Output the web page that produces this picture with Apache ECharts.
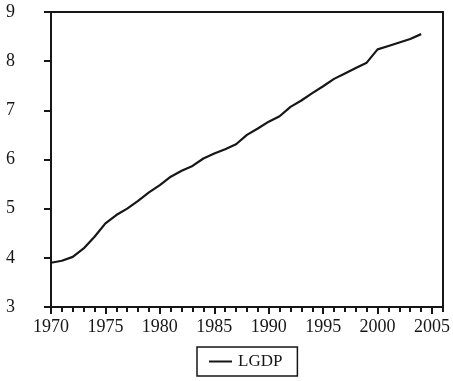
<!DOCTYPE html>
<html>
<head>
<meta charset="utf-8">
<script src="https://cdn.jsdelivr.net/npm/echarts@6/dist/echarts.min.js"></script>
<style>
  html, body { margin: 0; padding: 0; background: #ffffff; }
  #chart { width: 453px; height: 381px; }
</style>
</head>
<body>
<div id="chart"></div>
<script>
// Annual log GDP, 1970-2004
const years = [1970, 1971, 1972, 1973, 1974, 1975, 1976, 1977, 1978, 1979,
               1980, 1981, 1982, 1983, 1984, 1985, 1986, 1987, 1988, 1989,
               1990, 1991, 1992, 1993, 1994, 1995, 1996, 1997, 1998, 1999,
               2000, 2001, 2002, 2003, 2004];
const lgdp = [3.90, 3.94, 4.02, 4.19, 4.43, 4.70, 4.87, 5.00, 5.16, 5.33,
              5.48, 5.65, 5.77, 5.87, 6.02, 6.12, 6.21, 6.31, 6.50, 6.63,
              6.77, 6.88, 7.07, 7.20, 7.35, 7.49, 7.64, 7.75, 7.86, 7.97,
              8.24, 8.31, 8.38, 8.45, 8.55];
const seriesName = 'LGDP';

// Axis ranges and tick positions
const xMin = 1970, xMax = 2006;
const xMajorTicks = [1970, 1975, 1980, 1985, 1990, 1995, 2000, 2005];
const xMinorTicks = [];
for (let y = xMin; y <= xMax; y++) xMinorTicks.push(y);
const yMin = 3, yMax = 9, yStep = 1;

const ink = '#161616';
const font = '"Liberation Serif", "Times New Roman", serif';

const chart = echarts.init(document.getElementById('chart'), null, { renderer: 'canvas' });

chart.setOption({
  backgroundColor: '#ffffff',
  animation: false,
  textStyle: { fontFamily: font },
  grid: { left: 51, right: 9, top: 12, bottom: 74, containLabel: false },
  legend: {
    show: true,
    left: 197,
    top: 347,
    orient: 'horizontal',
    padding: [6, 15, 6, 12],
    borderColor: ink,
    borderWidth: 1.5,
    itemWidth: 23,
    itemHeight: 2,
    icon: 'rect',
    textStyle: { fontFamily: font, fontSize: 17, color: ink, padding: [0, 0, 0, 1] },
    data: [{ name: seriesName, itemStyle: { color: ink } }]
  },
  xAxis: [
    {
      // year ticks, one per year
      type: 'value',
      min: xMin,
      max: xMax,
      interval: 1,
      position: 'bottom',
      axisLine: { show: true, onZero: false, lineStyle: { color: ink, width: 2 } },
      axisTick: { show: true, inside: false, length: 5, lineStyle: { color: ink, width: 2 },
                  customValues: xMinorTicks },
      axisLabel: { show: false },
      splitLine: { show: false }
    },
    {
      // five-year ticks with labels
      type: 'value',
      min: xMin,
      max: xMax,
      interval: 5,
      position: 'bottom',
      offset: 0,
      axisLine: { show: false, onZero: false },
      axisTick: { show: true, inside: false, length: 7, lineStyle: { color: ink, width: 2 },
                  customValues: xMajorTicks },
      axisLabel: {
        show: true,
        customValues: xMajorTicks,
        margin: 11,
        fontFamily: font,
        fontSize: 18,
        color: ink,
        formatter: v => String(v)
      },
      splitLine: { show: false }
    },
    {
      // top frame edge
      type: 'value',
      min: xMin,
      max: xMax,
      position: 'top',
      axisLine: { show: true, onZero: false, lineStyle: { color: ink, width: 2 } },
      axisTick: { show: false },
      axisLabel: { show: false },
      splitLine: { show: false }
    }
  ],
  yAxis: [
    {
      type: 'value',
      min: yMin,
      max: yMax,
      interval: yStep,
      position: 'left',
      axisLine: { show: true, onZero: false, lineStyle: { color: ink, width: 2 } },
      axisTick: { show: true, inside: false, length: 7, lineStyle: { color: ink, width: 2 } },
      axisLabel: {
        show: true,
        margin: 36,
        fontFamily: font,
        fontSize: 18,
        color: ink
      },
      splitLine: { show: false }
    },
    {
      // right frame edge
      type: 'value',
      min: yMin,
      max: yMax,
      interval: yStep,
      position: 'right',
      axisLine: { show: true, onZero: false, lineStyle: { color: ink, width: 2 } },
      axisTick: { show: false },
      axisLabel: { show: false },
      splitLine: { show: false }
    }
  ],
  series: [
    {
      name: seriesName,
      type: 'line',
      xAxisIndex: 0,
      yAxisIndex: 0,
      data: years.map((y, i) => [y, lgdp[i]]),
      showSymbol: false,
      symbol: 'none',
      smooth: false,
      color: ink,
      lineStyle: { color: ink, width: 2.2 }
    }
  ]
});
</script>
</body>
</html>
